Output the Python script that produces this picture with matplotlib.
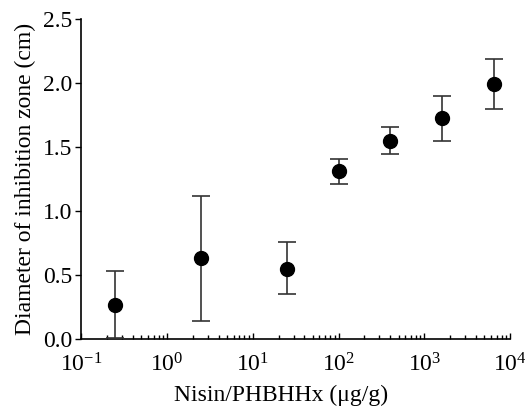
import numpy as np
import matplotlib.pyplot as plt
from matplotlib.ticker import LogLocator, NullFormatter

# data
conc = [0.25, 2.5, 25, 100, 400, 1600, 6400]           # Nisin/PHBHHx (ug/g)
diam = [0.27, 0.63, 0.55, 1.31, 1.545, 1.725, 1.99]     # mean diameter (cm)
err_lo = [0.26, 0.49, 0.20, 0.10, 0.10, 0.175, 0.19]    # mean - lower bar
err_hi = [0.26, 0.49, 0.21, 0.10, 0.11, 0.175, 0.20]    # upper bar - mean

plt.rcParams['font.family'] = 'serif'
plt.rcParams['font.serif'] = ['Liberation Serif']
plt.rcParams['mathtext.fontset'] = 'custom'
plt.rcParams['mathtext.rm'] = 'Liberation Serif'

fig = plt.figure(figsize=(5.26, 4.12), dpi=100)
ax = fig.add_axes([0.154, 0.177, 0.816, 0.777])

ax.errorbar(conc, diam, yerr=[err_lo, err_hi], fmt='o', color='black',
            ecolor='#333333', elinewidth=1.2, capsize=6.5, capthick=1.2,
            markersize=10, zorder=3)

ax.set_xscale('log')
ax.set_xlim(0.1, 1e4)
ax.set_ylim(0, 2.5)
ax.set_yticks([0, 0.5, 1.0, 1.5, 2.0, 2.5])
ax.set_yticklabels(['0.0', '0.5', '1.0', '1.5', '2.0', '2.5'])
ax.xaxis.set_minor_locator(LogLocator(base=10, subs=np.arange(2, 10)))
ax.xaxis.set_minor_formatter(NullFormatter())

ax.spines['top'].set_visible(False)
ax.spines['right'].set_visible(False)
for s in ['left', 'bottom']:
    ax.spines[s].set_linewidth(1.2)

ax.tick_params(axis='x', which='major', direction='in', length=4, width=1,
               labelsize=17, pad=10)
ax.tick_params(axis='x', which='minor', direction='in', length=3, width=1)
ax.tick_params(axis='y', direction='out', length=4, width=1, labelsize=17, pad=2)

ax.set_xlabel('Nisin/PHBHHx (μg/g)', fontsize=17)
ax.xaxis.set_label_coords(0.465, -0.143, transform=ax.transAxes)
ax.xaxis.label.set_va('top')
ax.set_ylabel('Diameter of inhibition zone (cm)', fontsize=17, labelpad=5)

fig.savefig('out.png', dpi=100)
